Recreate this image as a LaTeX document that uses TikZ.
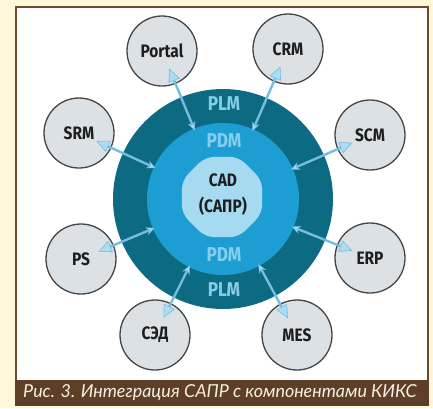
\documentclass[tikz,border=0pt]{standalone}
\usepackage{fontspec}
\usetikzlibrary{arrows.meta,calc,shapes.geometric}
\newfontfamily\labelfont[FakeStretch=0.86]{Fira Sans}
\newfontfamily\capfont{Lato}
\definecolor{cream}{HTML}{FEF7D9}
\definecolor{panelbrown}{HTML}{6B4A2E}
\definecolor{band}{HTML}{5C3F26}
\definecolor{captext}{HTML}{F6F0E4}
\definecolor{plmteal}{HTML}{0C6A83}
\definecolor{pdmblue}{HTML}{1C9ED3}
\definecolor{core}{HTML}{A6DAF1}
\definecolor{plmtext}{HTML}{86CDE6}
\definecolor{pdmtext}{HTML}{84CFF0}
\definecolor{satfill}{HTML}{DCE1E6}
\definecolor{satline}{HTML}{454545}
\definecolor{labeltext}{HTML}{1E1E1E}
\definecolor{arrowline}{HTML}{74BDE0}
\definecolor{arrowfill}{HTML}{A8DDF3}
\begin{document}
\begin{tikzpicture}[x=1pt,y=-1pt,
  sat/.style={circle, minimum size=70pt, inner sep=0pt, fill=satfill,
    draw=satline, line width=1.3pt, text=labeltext,
    font=\labelfont\bfseries\fontsize{18}{20}\selectfont},
  ringlabel/.style={inner sep=0pt, font=\labelfont\bfseries\fontsize{20}{22}\selectfont},
  link/.style={draw=arrowline, line width=2.4pt,
    {Triangle[length=13pt,width=12pt,fill=arrowfill,line width=0.6pt]}-{Stealth[length=9pt,width=8pt,fill=arrowfill,line width=0.6pt]}}]
\useasboundingbox (0,0) rectangle (433,408);
% page background, panel and caption band
\fill[cream] (0,0) rectangle (433,408);
\fill[white] (16,7) rectangle (428,381);
\draw[panelbrown, line width=1.8pt] (16,7) rectangle (428,381);
\fill[band] (15,380) rectangle (429,406);
\node[font=\capfont\itshape\fontsize{17.9}{21}\selectfont, text=captext, inner sep=0pt]
  (caption) at (220,393) {Рис. 3. Интеграция САПР с компонентами КИКС};

% nested rings: PLM, PDM and the CAD core
\coordinate (ctr) at (223,199);
\node[circle, fill=plmteal, minimum size=220pt, inner sep=0pt] (plm) at (ctr) {};
\node[circle, fill=pdmblue, minimum size=152pt, inner sep=0pt] (pdm) at (ctr) {};
\node[regular polygon, regular polygon sides=8, minimum size=87pt, inner sep=0pt,
  fill=core, rounded corners=9pt] (cad) at (222,197) {};
\node[align=center, text=labeltext, inner sep=0pt,
  font=\labelfont\bfseries\fontsize{18}{26}\selectfont] (cadtext) at (223,195) {CAD\\(САПР)};

\node[ringlabel, text=plmtext] (plmtop) at (224,104) {PLM};
\node[ringlabel, text=pdmtext] (pdmtop) at (224,141) {PDM};
\node[ringlabel, text=pdmtext] (pdmbot) at (224,255) {PDM};
\node[ringlabel, text=plmtext] (plmbot) at (224,290) {PLM};

% surrounding systems
\node[sat] (portal) at (162,51) {Portal};
\node[sat] (crm) at (288,49) {CRM};
\node[sat] (srm) at (79,133) {SRM};
\node[sat] (scm) at (370,135) {SCM};
\node[sat] (ps) at (81,259) {PS};
\node[sat] (erp) at (370,258) {ERP};
\node[sat] (sed) at (155,335) {СЭД};
\node[sat] (mes) at (297,335) {MES};

% two-way links into the PDM ring
\foreach \s in {portal,crm,srm,scm,ps,erp,sed,mes}
  \draw[link] ($(\s)!19pt!(ctr)$) -- ($(ctr)!74pt!(\s)$);
\end{tikzpicture}
\end{document}
